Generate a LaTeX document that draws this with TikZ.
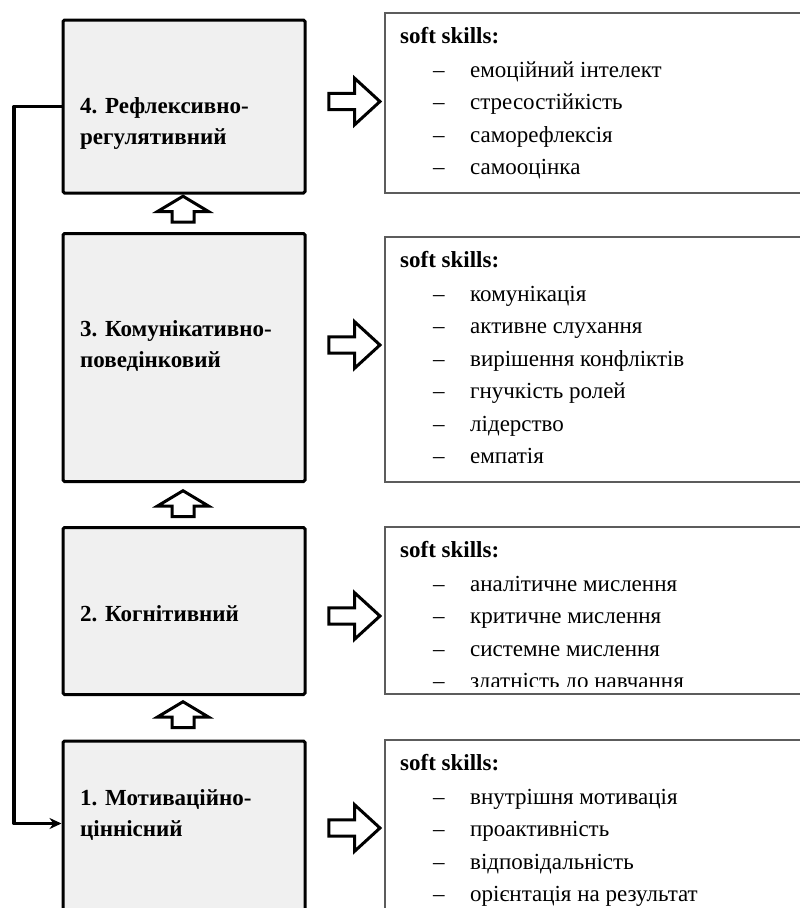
\documentclass[tikz,border=0pt]{standalone}
\usepackage{fontspec}
\setmainfont{Liberation Serif}
\usetikzlibrary{shapes.arrows,arrows.meta}
\definecolor{boxfill}{HTML}{F0F0F0}
\definecolor{skillframe}{HTML}{5C5C5C}
\tikzset{
	stage/.style={draw, line width=3pt, fill=boxfill, rounded corners=1.5pt, minimum width=242pt, inner sep=0pt},
	stagetext/.style={anchor=base west, text width=225pt, align=left, inner sep=0pt, font=\fontsize{23}{31}\selectfont\bfseries\frenchspacing},
	skills/.style={draw=skillframe, line width=1.3pt, minimum width=450pt, inner sep=0pt},
	skillhead/.style={anchor=base west, inner sep=0pt, font=\fontsize{23}{28}\selectfont\bfseries},
	skillitem/.style={anchor=base west, inner sep=0pt, font=\fontsize{23}{28}\selectfont},
	rightarrow/.style={draw, line width=3pt, fill=white, single arrow, single arrow head extend=15pt, single arrow tip angle=85, minimum height=51pt, inner xsep=0pt, inner ysep=6.7pt},
	uparrow/.style={draw, line width=3pt, fill=white, single arrow, rotate=90, single arrow head extend=14.5pt, single arrow tip angle=118, minimum height=26pt, inner xsep=0pt, inner ysep=9.5pt},
	link/.style={line width=3.2pt, line join=round, -{Stealth[length=12pt,width=11pt]}}
}
\begin{document}
\begin{tikzpicture}[x=1pt, y=-1pt]
				\useasboundingbox (0,0) rectangle (800,908);
				\clip (0,0) rectangle (800,908);
				\node[stage, minimum height=173pt] (L4) at (184,106.5) {};
				\node[stage, minimum height=248pt] (L3) at (184,357.5) {};
				\node[stage, minimum height=167pt] (L2) at (184,611) {};
				\node[stage, minimum height=220pt] (L1) at (184,851) {};
				\node[stagetext] (T4) at (80,113) {4. Рефлексивно-\\регулятивний};
				\node[stagetext] (T3) at (80,336) {3. Комунікативно-\\поведінковий};
				\node[stagetext] (T2) at (80,621) {2. Когнітивний};
				\node[stagetext] (T1) at (80,805) {1. Мотиваційно-\\ціннісний};
				\node[uparrow] (U3) at (183,212.5) {};
				\node[uparrow] (U2) at (183,507) {};
				\node[uparrow] (U1) at (183,718) {};
				\node[rightarrow] (A4) at (350,101.5) {};
				\node[rightarrow] (A3) at (350,345) {};
				\node[rightarrow] (A2) at (350,616) {};
				\node[rightarrow] (A1) at (350,828) {};
				\node[skills, minimum height=180pt] (S4) at (610,103) {};
				\node[skills, minimum height=245pt] (S3) at (610,359.5) {};
				\node[skills, minimum height=167pt] (S2) at (610,610.5) {};
				\node[skills, minimum height=230pt] (S1) at (610,855) {};
				\node[skillhead] (H4) at (400,43) {soft skills:};
				\node[skillhead] (H3) at (400,267) {soft skills:};
				\node[skillhead] (H2) at (400,557) {soft skills:};
				\node[skillhead] (H1) at (400,770) {soft skills:};
				\foreach \skill [count=\k] in {емоційний інтелект, стресостійкість, саморефлексія, самооцінка}
					\node[skillitem] (I4-\k) at (433,44.5+32.5*\k) {\makebox[37pt][l]{–}\skill};
				\foreach \skill [count=\k] in {комунікація, активне слухання, вирішення конфліктів, гнучкість ролей, лідерство, емпатія}
					\node[skillitem] (I3-\k) at (433,268.5+32.5*\k) {\makebox[37pt][l]{–}\skill};
				\begin{scope}
					\clip (S2.north west) rectangle ([yshift=8pt]S2.south east);
					\foreach \skill [count=\k] in {аналітичне мислення, критичне мислення, системне мислення, здатність до навчання}
						\node[skillitem] (I2-\k) at (433,558.5+32.5*\k) {\makebox[37pt][l]{–}\skill};
				\end{scope}
				\foreach \skill [count=\k] in {внутрішня мотивація, проактивність, відповідальність, орієнтація на результат}
					\node[skillitem] (I1-\k) at (433,771.5+32.5*\k) {\makebox[37pt][l]{–}\skill};
				\coordinate (bend) at (14,823.5);
				\draw[link] (L4.west) -| (bend) -- (bend -| L1.west);
			\end{tikzpicture}
\end{document}
